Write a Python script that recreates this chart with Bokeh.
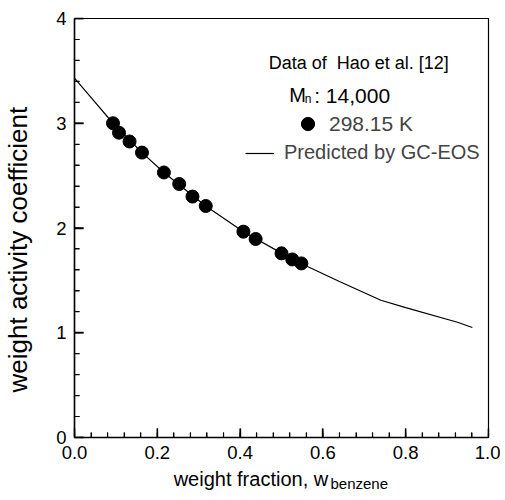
import math
from bokeh.plotting import figure
from bokeh.models import (Range1d, FixedTicker, Label, Legend, LegendItem)
from bokeh.embed import file_html
from bokeh.resources import INLINE

# ---- data ----
w_exp = [0.093, 0.1075, 0.133, 0.163, 0.216, 0.253, 0.285, 0.317, 0.408, 0.4375, 0.500, 0.526, 0.548]
gamma_exp = [3.00, 2.91, 2.826, 2.72, 2.53, 2.42, 2.30, 2.21, 1.965, 1.895, 1.758, 1.70, 1.662]

w_pred = [0.0, 0.05, 0.093, 0.163, 0.216, 0.285, 0.317, 0.408, 0.50, 0.564, 0.64, 0.74, 0.80, 0.925, 0.961]
gamma_pred = [3.43, 3.20, 3.00, 2.72, 2.53, 2.31, 2.21, 1.965, 1.76, 1.63, 1.49, 1.31, 1.24, 1.10, 1.05]

x_ticks = [0.0, 0.2, 0.4, 0.6, 0.8, 1.0]
x_tick_labels = ["0.0", "0.2", "0.4", "0.6", "0.8", "1.0"]
y_ticks = [0, 1, 2, 3, 4]
y_tick_labels = ["0", "1", "2", "3", "4"]
x_minor = [round(0.04 * i, 2) for i in range(26)]
y_minor = [round(0.2 * i, 1) for i in range(21)]

FONT = "Liberation Sans"
NB = "\u00a0"
W, H = 500, 500
BL, BR, BT, BB = 72, 12, 18, 63

p = figure(width=W, height=H, output_backend="svg", toolbar_location=None,
           x_range=Range1d(0, 1.0), y_range=Range1d(0, 4))
p.min_border_left = BL
p.min_border_right = BR
p.min_border_top = BT
p.min_border_bottom = BB
p.xgrid.visible = False
p.ygrid.visible = False
p.outline_line_color = "black"
p.outline_line_width = 1.2
p.background_fill_color = None
p.border_fill_color = "white"

p.xaxis.ticker = FixedTicker(ticks=x_ticks, minor_ticks=x_minor)
p.yaxis.ticker = FixedTicker(ticks=y_ticks, minor_ticks=y_minor)
p.xaxis.major_label_overrides = {t: l for t, l in zip(x_ticks, x_tick_labels)}
p.yaxis.major_label_overrides = {t: l for t, l in zip(y_ticks, y_tick_labels)}

for ax in (p.xaxis, p.yaxis):
    ax.major_tick_in = 9
    ax.major_tick_out = 0
    ax.minor_tick_in = 5
    ax.minor_tick_out = 0
    ax.major_tick_line_width = 1.3
    ax.minor_tick_line_width = 1.1
    ax.major_tick_line_color = "black"
    ax.minor_tick_line_color = "black"
    ax.axis_line_width = 1.5
    ax.major_label_text_font = FONT
    ax.major_label_text_font_size = "18.5px"
    ax.major_label_text_color = "black"
    ax.major_label_standoff = 8
    ax.axis_line_color = "black"
    ax.axis_label_text_font = FONT
    ax.axis_label_text_font_style = "normal"
    ax.axis_label_text_color = "black"

# axis titles (non-breaking spaces shift the centred title to where the original sits)
p.xaxis.axis_label = "weight fraction, w" + NB * 11
p.xaxis.axis_label_text_font_size = "20px"
p.xaxis.axis_label_standoff = 6
p.yaxis.axis_label = "weight activity coefficient" + NB * 6
p.yaxis.axis_label_text_font_size = "26px"
p.yaxis.axis_label_standoff = 20

# inward ticks drawn from the tick lists, starting a hair inside the frame
px_x = (W - BL - BR) / 1.0
px_y = (H - BT - BB) / 4.0
eps_x, eps_y = 0.6 / px_x, 0.6 / px_y
p.segment(x0=x_ticks, y0=[eps_y] * len(x_ticks), x1=x_ticks, y1=[9 / px_y] * len(x_ticks),
          line_color="black", line_width=1.3)
p.multi_line(xs=[[v, v] for v in x_minor], ys=[[eps_y, 5 / px_y] for v in x_minor],
             line_color="black", line_width=1.1)
p.rect(x=[4.5 / px_x] * len(y_ticks), y=y_ticks, width=9, height=1.3,
       width_units="screen", height_units="screen", fill_color="black", line_color=None)
p.segment(x0=[eps_x] * len(y_minor), y0=y_minor, x1=[5 / px_x] * len(y_minor), y1=y_minor,
          line_color="black", line_width=1.1)

# ---- curves ----
line_r = p.line(w_pred, gamma_pred, line_color="black", line_width=1.2)
pts_r = p.scatter(w_exp, gamma_exp, size=13, marker="circle",
                  fill_color="black", line_color="black")

# ---- legend-like annotation ----
def lab(x, y, text, size="19px", baseline="middle", units="data", **kw):
    return Label(x=x, y=y, text=text, text_font=FONT, text_font_size=size,
                 text_baseline=baseline, text_color="black",
                 x_units=units, y_units=units, **kw)

p.add_layout(lab(0.469, 3.579, "Data of" + NB + " Hao et al. [12]", size="18px"))
p.add_layout(lab(0.519, 3.265, "M", size="20px"))
p.add_layout(lab(0.556, 3.228, "n", size="12px"))
p.add_layout(lab(0.579, 3.265, ": 14,000", size="21px"))

leg1 = Legend(items=[LegendItem(label="298.15 K", renderers=[pts_r])],
              location=(217, 297), glyph_width=33, glyph_height=33,
              label_standoff=5, padding=0, spacing=0, margin=0,
              border_line_color=None, background_fill_alpha=0,
              label_text_font=FONT, label_text_font_size="21px", label_height=20)
leg2 = Legend(items=[LegendItem(label="Predicted by GC-EOS", renderers=[line_r])],
              location=(171, 273), glyph_width=29, glyph_height=20,
              label_standoff=10, padding=0, spacing=0, margin=0,
              border_line_color=None, background_fill_alpha=0,
              label_text_font=FONT, label_text_font_size="20px", label_height=20)
p.add_layout(leg1, "center")
p.add_layout(leg2, "center")

# subscript of the x title, carried by the (thin) top panel and moved down to the title line
p.add_layout(lab(256, BT - 483, "benzene", size="15px", units="screen"), "above")

open("out.html", "w").write(file_html(p, INLINE))
